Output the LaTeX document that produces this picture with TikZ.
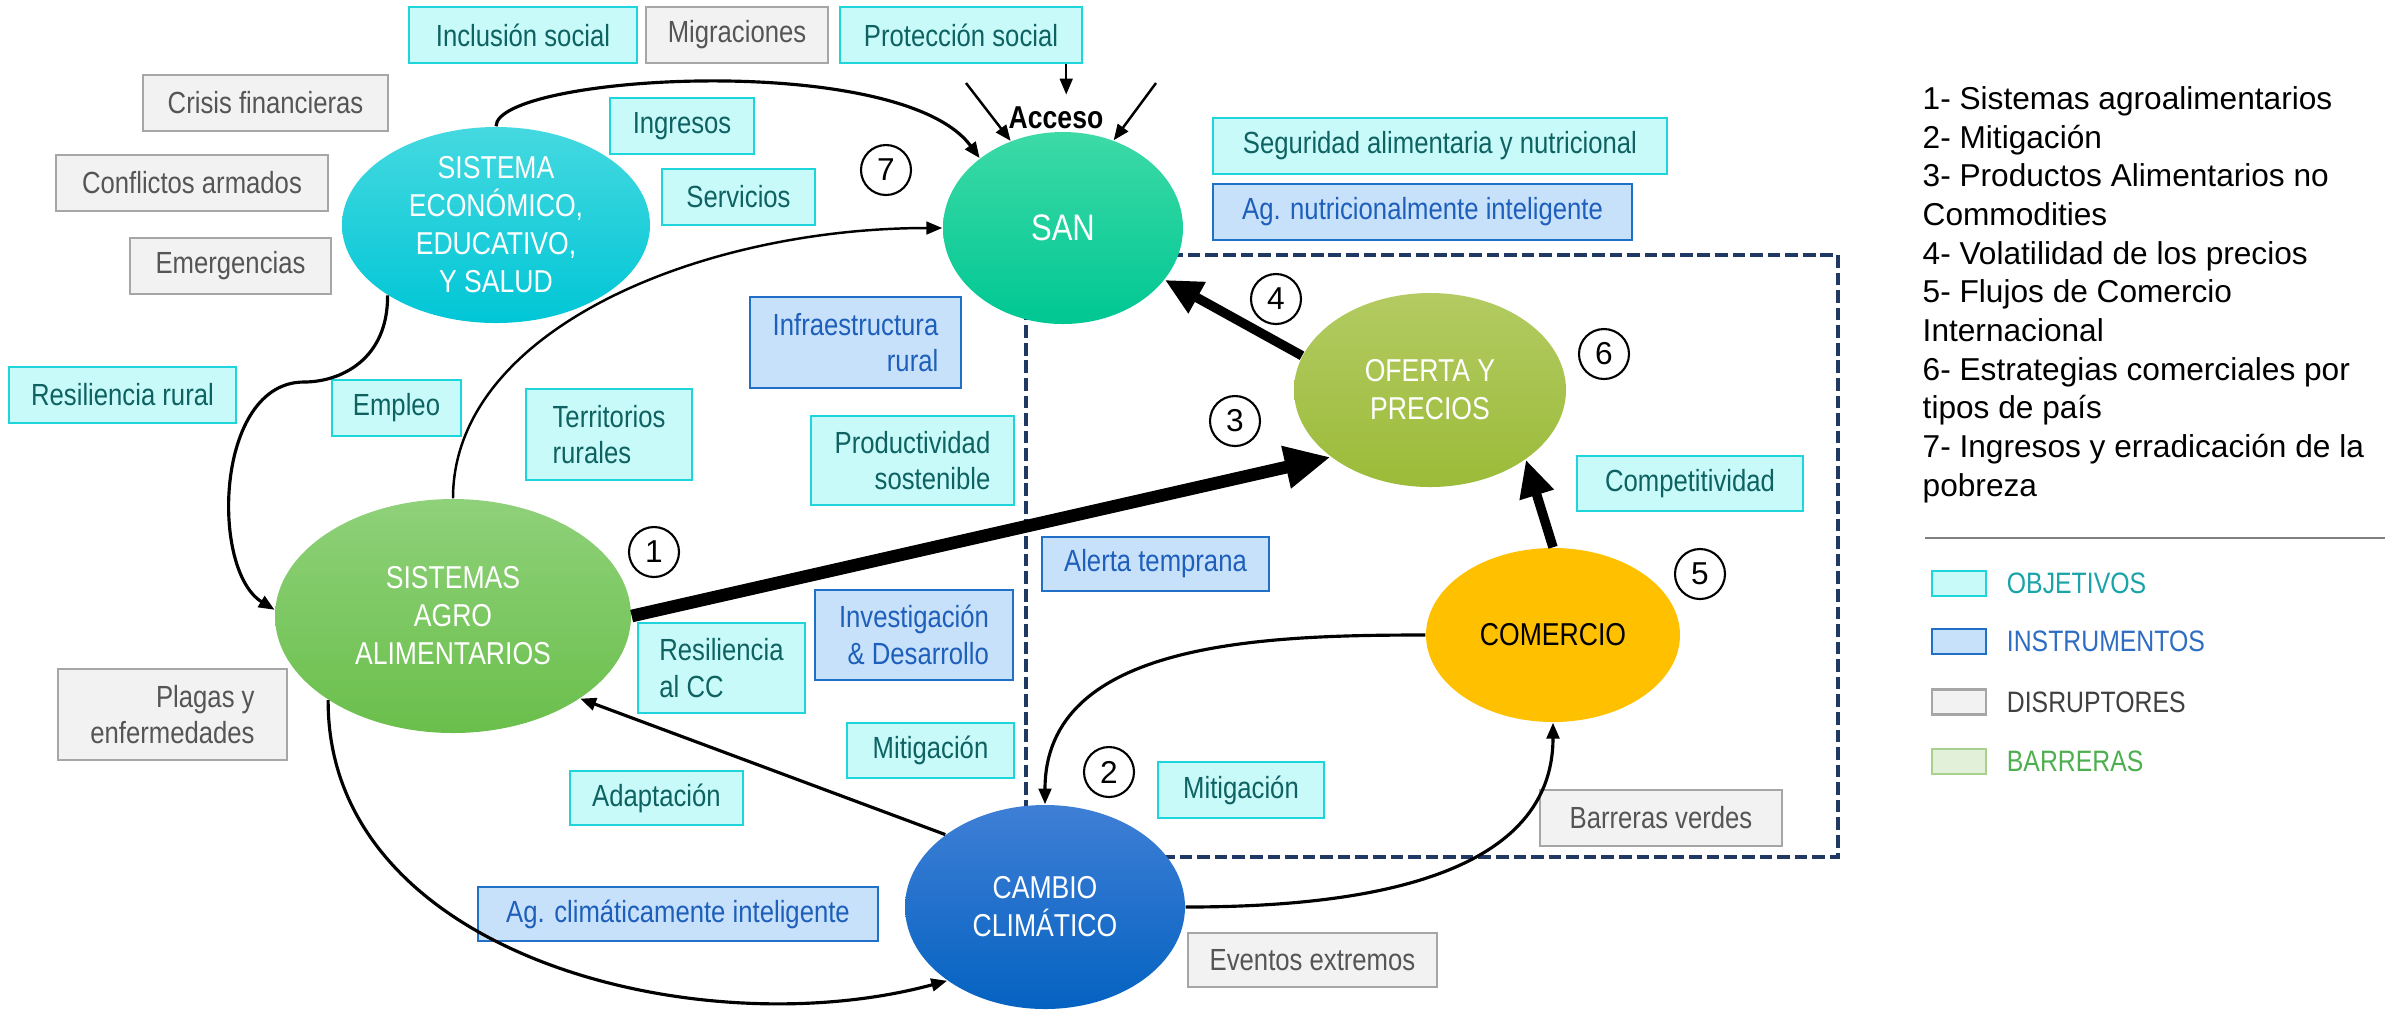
\documentclass[tikz,border=0pt]{standalone}
\usepackage{fontspec}
\setmainfont{Liberation Sans}
\newfontfamily\condfont[FakeStretch=0.84]{Liberation Sans}
\usetikzlibrary{arrows.meta,shapes.geometric,positioning}

\definecolor{objfill}{HTML}{C9FAFA}
\definecolor{objline}{HTML}{1FD5DC}
\definecolor{objtext}{HTML}{0E6262}
\definecolor{insfill}{HTML}{C8E1FA}
\definecolor{insline}{HTML}{2170C8}
\definecolor{instext}{HTML}{1D5FBA}
\definecolor{disfill}{HTML}{F2F2F2}
\definecolor{disline}{HTML}{A6A6A6}
\definecolor{distext}{HTML}{555555}
\definecolor{barfill}{HTML}{E2F0D9}
\definecolor{barline}{HTML}{A9D18E}
\definecolor{dashblue}{HTML}{1F3864}
\definecolor{econtop}{HTML}{45D9E0}
\definecolor{econbot}{HTML}{00C6D6}
\definecolor{santop}{HTML}{3DDAA6}
\definecolor{sanbot}{HTML}{00C793}
\definecolor{oftop}{HTML}{B3CB62}
\definecolor{ofbot}{HTML}{9BBB39}
\definecolor{comfill}{HTML}{FFC000}
\definecolor{camtop}{HTML}{3F7FD6}
\definecolor{cambot}{HTML}{0462C1}
\definecolor{agrotop}{HTML}{8FD17A}
\definecolor{agrobot}{HTML}{6ABF4B}
\definecolor{kobjtext}{HTML}{1AA3A8}
\definecolor{kinstext}{HTML}{2E6DC2}
\definecolor{kdistext}{HTML}{404040}
\definecolor{kbartext}{HTML}{4DAF4F}

\begin{document}
\begin{tikzpicture}[x=1cm,y=-1cm,
  box/.style={draw,line width=.7pt,inner sep=0pt,font=\condfont\fontsize{8.7}{10.4}\selectfont},
  obj/.style={box,fill=objfill,draw=objline,text=objtext},
  ins/.style={box,fill=insfill,draw=insline,text=instext},
  dis/.style={box,fill=disfill,draw=disline,text=distext},
  sz/.style 2 args={minimum width=#1cm,minimum height=#2cm},
  bubble/.style={ellipse,inner sep=0pt,text=white,align=center,font=\condfont\fontsize{9}{10.8}\selectfont},
  num/.style={circle,draw,fill=white,line width=.6pt,minimum size=.5cm,inner sep=0pt,font=\fontsize{9}{9}\selectfont},
  link/.style={line width=.9pt,-{Triangle[length=4.5pt,width=3.6pt]}},
  thinlink/.style={line width=.7pt,-{Triangle[length=4.5pt,width=3.6pt]}},
  fatlink/.style={line width=2.7pt,-{Triangle[length=10.5pt,width=9.5pt]}},
  fatterlink/.style={line width=3.6pt,-{Triangle[length=13pt,width=11.5pt]}}]
\useasboundingbox (0,0) rectangle (23.95,10.12);

% recuadro de barreras
\draw[dashblue,line width=1pt,dash pattern=on 3.6pt off 1.4pt] (10.26,2.55) rectangle (18.38,8.57);

% sistemas
\node[bubble,top color=econtop,bottom color=econbot,sz={3.08}{1.96}] (econ) at (4.96,2.25) {SISTEMA\\ECONÓMICO,\\EDUCATIVO,\\Y SALUD};
\node[bubble,top color=santop,bottom color=sanbot,sz={2.40}{1.92},font=\condfont\fontsize{10.5}{12}\selectfont] (san) at (10.63,2.28) {SAN};
\node[bubble,top color=oftop,bottom color=ofbot,sz={2.72}{1.94}] (ofer) at (14.30,3.90) {OFERTA Y\\PRECIOS};
\node[bubble,fill=comfill,text=black,sz={2.54}{1.74}] (com) at (15.53,6.35) {COMERCIO};
\node[bubble,top color=camtop,bottom color=cambot,sz={2.80}{2.04}] (camb) at (10.45,9.07) {CAMBIO\\CLIMÁTICO};
\node[bubble,top color=agrotop,bottom color=agrobot,sz={3.56}{2.34}] (agro) at (4.53,6.16) {SISTEMAS\\AGRO\\ALIMENTARIOS};

% objetivos
\node[obj,sz={2.28}{.56}] (incl) at (5.23,.35) {Inclusión social};
\node[obj,sz={2.42}{.56}] (prot) at (9.61,.35) {Protección social};
\node[obj,sz={1.44}{.56}] (ingr) at (6.82,1.26) {Ingresos};
\node[obj,sz={1.53}{.56}] (serv) at (7.385,1.97) {Servicios};
\node[obj,sz={2.27}{.56}] (resr) at (1.225,3.95) {Resiliencia rural};
\node[obj,sz={1.29}{.56}] (empl) at (3.965,4.08) {Empleo};
\node[obj,sz={1.66}{.91},align=left] (terr) at (6.09,4.345) {Territorios\\rurales};
\node[obj,sz={2.03}{.89},align=right] (prod) at (9.125,4.605) {Productividad\\sostenible};
\node[obj,sz={1.67}{.90},align=left] (rescc) at (7.215,6.68) {Resiliencia\\al CC};
\node[obj,sz={1.67}{.55}] (mitl) at (9.305,7.505) {Mitigación};
\node[obj,sz={1.66}{.56}] (mitr) at (12.41,7.90) {Mitigación};
\node[obj,sz={1.73}{.54}] (adap) at (6.565,7.98) {Adaptación};
\node[obj,sz={2.26}{.55}] (compt) at (16.90,4.835) {Competitividad};
\node[obj,sz={4.54}{.56}] (segu) at (14.40,1.46) {Seguridad alimentaria y nutricional};

% instrumentos
\node[ins,sz={4.19}{.56}] (agnut) at (14.225,2.12) {Ag. nutricionalmente inteligente};
\node[ins,sz={2.11}{.91},align=right] (infra) at (8.555,3.425) {Infraestructura\\rural};
\node[ins,sz={1.98}{.90},align=right] (inves) at (9.14,6.35) {Investigación\\\& Desarrollo};
\node[ins,sz={2.27}{.54}] (alert) at (11.555,5.64) {Alerta temprana};
\node[ins,sz={4.00}{.54}] (agcli) at (6.78,9.14) {Ag. climáticamente inteligente};

% disruptores
\node[dis,sz={1.82}{.56}] (migr) at (7.37,.35) {Migraciones};
\node[dis,sz={2.45}{.56}] (crisis) at (2.655,1.03) {Crisis financieras};
\node[dis,sz={2.72}{.56}] (confl) at (1.92,1.83) {Conflictos armados};
\node[dis,sz={2.01}{.56}] (emerg) at (2.305,2.66) {Emergencias};
\node[dis,sz={2.29}{.91},align=right] (plag) at (1.725,7.145) {Plagas y\\enfermedades};
\node[dis,sz={2.42}{.56}] (barr) at (16.61,8.18) {Barreras verdes};
\node[dis,sz={2.49}{.54}] (even) at (13.125,9.60) {Eventos extremos};

% numeros
\node[num] (n1) at (6.54,5.52) {1};
\node[num] (n2) at (11.09,7.72) {2};
\node[num] (n3) at (12.35,4.21) {3};
\node[num] (n4) at (12.76,2.99) {4};
\node[num] (n5) at (17.00,5.74) {5};
\node[num] (n6) at (16.04,3.54) {6};
\node[num] (n7) at (8.86,1.70) {7};

% acceso
\node[font=\condfont\bfseries\fontsize{9}{9}\selectfont] (acceso) at (10.56,1.18) {Acceso};
\coordinate (accl) at (9.66,.83);
\coordinate (accr) at (11.56,.83);
\draw[thinlink] ([xshift=-.17cm]prot.south east) -- ([xshift=-.17cm]prot.south east |- acceso.north);
\draw[thinlink] (accl) -- (san.121);
\draw[thinlink] (accr) -- (san.60);

% relaciones
\draw[link] (econ.north) .. controls (4.96,.75) and (9.0,.50) .. (san.140);
\coordinate (kink) at (3.04,3.82);
\draw[link] (econ.213) .. controls (3.88,3.60) and (3.40,3.82) .. (kink)
  .. controls (2.15,3.82) and (2.10,5.70) .. (agro.178);
\draw[thinlink] (agro.north) .. controls (4.53,3.30) and (7.0,2.28) .. (san.west);
\draw[link] (camb.144) -- (agro.-33);
\draw[link] (com.west) to[out=180,in=90] (camb.north);
\draw[link] (camb.east) to[out=0,in=-90] (com.south);
\draw[link] (agro.214) .. controls (3.27,9.55) and (6.98,10.48) .. (camb.217);
\draw[fatterlink] (agro.east) -- (ofer.214);
\draw[fatlink] (ofer.165) -- (san.-27);
\draw[fatlink] (com.north) -- (ofer.-36);

% leyenda
\node[anchor=north west,align=left,inner sep=0pt,font=\fontsize{9}{11}\selectfont] (lista) at (19.22,.86)
  {1- Sistemas agroalimentarios\\2- Mitigación\\3- Productos Alimentarios no\\Commodities\\4- Volatilidad de los precios\\5- Flujos de Comercio\\Internacional\\6- Estrategias comerciales por\\tipos de país\\7- Ingresos y erradicación de la\\pobreza};
\draw[gray,line width=.8pt] (19.25,5.38) -- (23.85,5.38);
\node[obj,sz={.54}{.25}] (kobj) at (19.59,5.835) {};
\node[ins,sz={.54}{.25}] (kins) at (19.59,6.415) {};
\node[dis,sz={.54}{.25}] (kdis) at (19.59,7.02) {};
\node[box,fill=barfill,draw=barline,sz={.54}{.25}] (kbar) at (19.59,7.615) {};
\node[right=.19cm of kobj,inner sep=0pt,text=kobjtext,font=\condfont\fontsize{8.4}{9}\selectfont] {OBJETIVOS};
\node[right=.19cm of kins,inner sep=0pt,text=kinstext,font=\condfont\fontsize{8.4}{9}\selectfont] {INSTRUMENTOS};
\node[right=.19cm of kdis,inner sep=0pt,text=kdistext,font=\condfont\fontsize{8.4}{9}\selectfont] {DISRUPTORES};
\node[right=.19cm of kbar,inner sep=0pt,text=kbartext,font=\condfont\fontsize{8.4}{9}\selectfont] {BARRERAS};
\end{tikzpicture}
\end{document}
